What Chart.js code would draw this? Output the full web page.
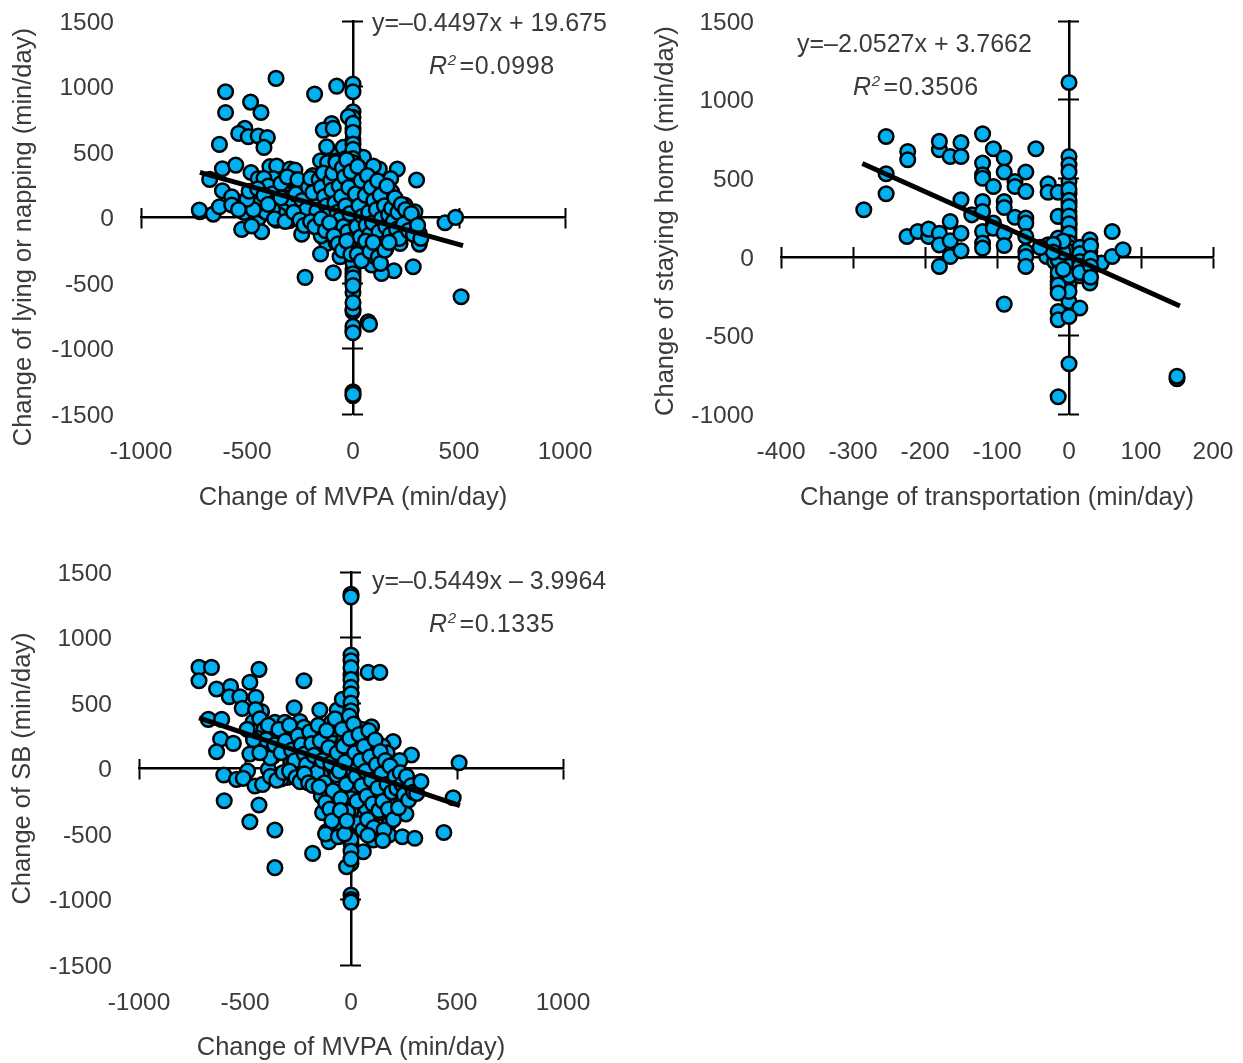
<!DOCTYPE html>
<html lang="en">
<head>
  <meta charset="UTF-8" />
  <title>Change of behaviours</title>
  <script src="https://cdn.jsdelivr.net/npm/chart.js"></script>
  <style>
    html, body {
      margin: 0;
      padding: 0;
      background: #fff;
      width: 1243px;
      height: 1063px;
      overflow: hidden;
      font-family: 'Liberation Sans', sans-serif;
      color: #3b3b3b;
    }
    canvas { position: absolute; }
    #chartA { left: 0; top: 0; }
    #chartB { left: 620px; top: 0; }
    #chartC { left: 0; top: 540px; }
    .note {
      position: absolute;
      font-size: 25px;
      line-height: 28px;
      white-space: nowrap;
    }
    .note sup { font-size: 15px; line-height: 0; font-style: italic; margin-right: 3px; }
    .note.r2 { letter-spacing: 0.6px; }
  </style>
</head>
<body>
  <canvas id="chartA" width="620" height="520"></canvas>
  <canvas id="chartB" width="623" height="520"></canvas>
  <canvas id="chartC" width="620" height="523"></canvas>

  <div class="note" style="left:372px;top:8px">y=–0.4497x + 19.675</div>
  <div class="note r2" style="left:429px;top:51px"><i>R</i><sup>2</sup>=0.0998</div>
  <div class="note" style="left:797px;top:29px">y=–2.0527x + 3.7662</div>
  <div class="note r2" style="left:853px;top:72px"><i>R</i><sup>2</sup>=0.3506</div>
  <div class="note" style="left:372px;top:566px">y=–0.5449x – 3.9964</div>
  <div class="note r2" style="left:429px;top:609px"><i>R</i><sup>2</sup>=0.1335</div>

  <script>
    const lyingX = [-363,-601,-181,-77,0,0,-483,-434,-601,0,0,-22,0,0,-101,-140,-93,-510,-539,-494,-447,-404,-420,-630,-124,-153,-616,-553,-481,-676,-616,-572,-447,-392,-360,-376,-297,-274,-242,-182,-289,-329,-69,-17,-46,3,49,-77,0,2,-58,-124,-90,-17,-46,124,96,209,178,300,104,127,49,182,178,190,72,45,151,222,258,292,245,434,484,-722,-725,-659,-630,-572,-514,-467,-447,-431,-525,-478,-360,-300,-274,-208,-242,-156,-124,-61,-6,0,104,135,222,313,313,190,284,193,135,88,104,-93,-61,-124,-153,-226,0,0,0,0,72,510,0,0,0,0,0,78,0,0,
      -500,-460,-430,-400,-350,-320,-260,-220,-200,-160,-140,-110,-90,-60,-40,-20,20,40,60,80,110,130,150,170,200,230,260,
      -410,-370,-330,-290,-250,-210,-170,-130,-100,-70,-30,10,30,55,85,115,140,165,195,225,
      -30,-10,15,35,65,95,120,155,-150,-110,-80,-45,-20,
      0,0,0,0,0,0,0,
      -280,-240,-190,-120,-80,-35,25,50,75,105,60,30,-15,-50,
      0,0,0,0,0,0,0,0,0,0,0,0,0,0,0,0,0,0,0,0,0,
      -420,-400,-380,-350,-340,-310,-300,-270,-260,-240,-220,-210,-200,-190,-170,-160,-150,-140,-135,-125,-115,-105,-100,-95,-85,-80,-75,-65,-60,-55,-50,-45,-40,-35,-30,-25,-20,-15,-10,-8,12,18,22,28,34,38,44,52,58,62,68,74,78,85,92,98,102,110,116,122,128,134,142,148,155,160,168,175,182,190,198,205,212,218,228,238,248,262,275,285,305,320,-330,-350,-380,-410,-440,-470,-500,-540,-490,-450,-420,-400,-370,-340,-320,-280,-250,-230,-200,-180,-150,-130,-110,-90,-70,-50,-30,-10,20,40,60,80,95,120,130,150,170];
    const lyingY = [1062,960,942,1003,1019,960,881,802,802,807,764,770,680,596,718,667,680,680,642,617,622,611,535,558,540,433,372,400,344,291,204,158,298,388,393,298,370,362,253,286,235,197,477,477,535,500,459,332,375,298,393,235,204,204,260,370,393,370,298,286,204,235,255,197,133,82,120,57,39,-20,31,44,95,-40,1,44,57,26,82,95,39,103,-7,-109,-91,-65,-20,-25,74,39,-127,-58,6,-40,-15,-122,-185,-172,-198,-203,-122,-122,-376,-407,-427,-363,-300,-422,-300,-198,-279,-457,-396,-490,-572,-720,-796,-605,-860,-830,-880,-1330,-1360,-815,-1350,-700,
      100,170,60,120,200,150,120,80,160,120,180,70,130,60,150,100,140,60,110,30,70,130,40,90,20,60,-30,
      40,10,50,-10,60,20,-20,40,-40,10,-70,-20,-100,-50,0,-90,-40,30,-60,-110,
      -160,-70,-130,-180,-100,-220,-150,-240,-140,-80,-190,-130,-250,
      -30,-160,-240,-320,-340,-180,-240,
      290,250,320,420,430,450,310,180,110,50,-60,-110,-250,-230,
      720,650,560,520,450,420,350,250,150,50,-50,-100,-180,-220,-260,-310,-350,-430,-460,-520,-650,
      300,240,180,130,260,310,90,180,290,130,60,230,300,190,50,290,230,340,160,90,20,280,210,340,110,420,40,240,-10,160,380,-70,310,90,440,-110,230,30,350,-170,180,-70,390,90,-150,280,10,-220,170,-60,320,40,-130,230,-40,130,-240,60,280,-110,170,-10,-200,90,-70,240,20,-130,70,-30,150,-90,40,-160,100,-50,60,-100,30,-130,-60,-160,50,20,60,40,110,60,140,60,200,220,170,100,-10,150,-30,40,-20,-60,-30,-70,-10,-100,-40,-140,-200,-250,-180,-280,-280,-330,-180,-260,-190,-300,-350,-250,-190];

    const transportX = [-285,-254,-254,-254,-224,-224,-225,-210,-195,-195,-180,-180,-180,-180,-165,-165,-165,-165,-180,-150,-150,-150,-150,-150,-135,-120,-120,-120,-120,-120,-120,-120,-120,-120,-105,-105,-105,-105,-90,-90,-90,-90,-90,-90,-90,-75,-75,-75,-60,-60,-60,-60,-60,-60,-60,-60,-46,-29,-29,-29,-31,-15,-15,-15,-15,-15,-15,-15,-15,-15,-15,-15,0,0,0,0,0,0,0,0,0,0,0,0,0,0,0,1,15,15,15,0,29,29,29,29,29,45,60,60,75,150,150,-15,0,0,0,15,15,-10,10,20,-20,-5,
      0,0,0,0,0,0,0,0,0,0,0,0,0,0,-15,-15,-15,-15,-15,15,15,15,15,15,30,30,30,30,-8,-8,-8,-22,-22,-40];
    const stayingY = [299,765,528,401,670,617,129,161,129,176,150,681,734,76,638,225,102,2,-61,727,638,363,150,38,267,782,596,522,500,352,288,161,87,55,687,447,214,182,628,539,352,314,150,72,-301,479,447,252,539,416,246,214,129,34,2,-61,687,464,411,76,2,411,257,119,66,2,-72,-125,-157,-205,-348,-400,638,585,479,401,340,288,235,204,172,119,2,-78,-178,-284,1109,-120,-78,2,-326,-380,108,34,-19,-93,-167,-40,2,161,45,-775,-760,-890,-680,60,-30,-120,20,-50,50,-100,-30,90,
      540,430,360,320,260,210,150,90,60,30,-30,-60,-120,-220,60,-20,-100,-180,-230,60,20,-30,-60,-100,70,-10,-60,-130,30,100,-80,80,30,60];

    const sbX = [-717,-658,-717,-434,-222,81,136,0,0,0,-477,-634,-568,-574,-524,-449,-513,-422,-461,-430,-673,-610,-615,-555,-634,-477,-488,-600,-540,-508,-453,-417,-598,-434,-477,-359,-359,-181,-268,-147,-65,-41,0,0,0,-92,-359,-312,-241,-222,81,97,199,285,510,482,438,-370,-238,-147,-312,-370,-284,-390,-301,-210,-118,-170,-120,-41,0,0,-20,-68,-178,105,120,196,136,149,227,317,259,136,179,199,120,179,242,301,58,0,0,0,-21,0,-115,-104,-60,-134,-79,-13,31,47,47,-13,-68,0,105,0,0,0,0,
      -300,-260,-200,-160,-100,-70,-30,20,50,80,150,170,230,260,
      -400,-340,-280,-230,-190,-130,-90,-50,15,40,70,100,130,160,210,
      -330,-270,-220,-170,-140,-95,-45,-25,25,60,90,125,165,205,250,
      -140,-100,-40,10,35,75,110,150,-20,0,20,70,140,
      0,0,0,0,0,0,0,0,0,0,0,0,0,0,0,0,0,0,0,
      -450,-430,-410,-390,-440,-420,-400,-380,-360,-340,-330,-310,-290,-280,-265,-250,-235,-220,-210,-195,-185,-175,-160,-155,-145,-135,-125,-115,-105,-95,-85,-75,-65,-55,-48,-42,-35,-28,-22,-16,-8,-6,12,18,24,28,32,38,44,50,56,62,68,74,78,84,90,96,102,108,114,120,126,132,138,144,150,156,162,170,176,184,192,200,208,216,224,232,240,250,262,272,285,295,310,330,-380,-350,-320,-290,-260,-240,-220,-200,-180,-150,-120,-100,-90,-120,-60,-30,-50,-20,80,150,-460,-490,-430];
    const sbY = [772,772,670,757,670,734,734,866,823,714,658,607,625,548,548,543,459,434,357,306,375,375,225,192,128,111,-19,-50,-83,-75,-134,-121,-246,-279,-406,-470,-757,-648,464,447,447,528,574,452,383,352,352,352,358,314,268,319,205,103,44,-223,-488,235,235,268,290,90,44,-6,-68,-68,-121,149,116,65,116,212,270,217,65,90,14,22,-57,-195,-233,-113,-347,-337,-424,-291,-500,-508,-521,-533,-635,-482,-571,-724,-750,-966,-482,-559,-424,-337,-266,-266,-195,-309,-381,-151,-50,-60,-546,1330,1310,-1000,-1020,
      180,260,200,130,240,300,180,260,300,200,170,120,60,-60,
      150,120,110,70,100,90,40,-10,30,-30,-20,-60,-100,-70,-50,
      -80,40,10,-30,-50,30,-20,50,-100,-40,-80,-120,-160,-150,-110,
      -210,-260,-180,-130,-240,-200,-250,-150,-360,-420,-330,-300,-260,
      770,680,620,570,500,440,330,250,160,60,0,-100,-170,-230,-320,-400,-540,-630,-690,
      450,380,300,330,230,160,220,80,180,300,120,210,330,140,60,250,180,110,30,280,190,100,-30,330,210,60,-110,290,160,40,-170,380,120,-20,-230,300,170,50,-120,-330,400,230,340,120,-60,-250,-420,260,60,-130,-470,170,-20,-210,-390,290,90,-90,-270,-450,220,30,-150,-320,130,-40,-250,-470,60,-120,-310,20,-180,-390,-60,-150,-300,-30,-120,-200,-60,-240,-130,-180,-190,-100,-60,-90,-30,-20,-70,-100,-40,-110,-130,-140,-260,-310,-400,-500,-520,-500,-320,-400,-510,-550,220,300,120];

    const mvpaLimits = [-1000, 1000];
    const transportLimits = [-400, 200];
    const lyingLimits = [-1500, 1500];
    const stayingLimits = [-1000, 1500];
    const sbLimits = [-1500, 1500];

    const lyingTrendX = [-722, 519];
    const lyingTrendY = [345, -214];
    const stayingTrendX = [-287, 154];
    const stayingTrendY = [593, -313];
    const sbTrendX = [-717, 514];
    const sbTrendY = [387, -284];

    const family = "'Liberation Sans', sans-serif";
    const tickFont = { family, size: 24.5 };
    const titleFont = { family, size: 25.5 };
    const textColor = '#3b3b3b';

    function pairs(xs, ys) {
      if (xs.length !== ys.length) throw new Error('length mismatch ' + xs.length + ' ' + ys.length);
      return xs.map((x, i) => ({ x, y: ys[i] }));
    }

    // extra scale that only draws an axis line through zero, with ticks to one side
    function crossAxis(axis, lim, step, tick, border) {
      return {
        type: 'linear',
        axis,
        min: lim[0],
        max: lim[1],
        position: axis === 'x' ? { y: 0 } : { x: 0 },
        ticks: { display: false, stepSize: step, autoSkip: false },
        grid: { drawOnChartArea: false, drawTicks: true, tickLength: tick, tickWidth: 2, tickColor: '#000' },
        border: { display: border, color: '#000', width: 2.5 }
      };
    }

    // tick gap is made with a see-through tick mark: ticks.padding would widen the layout padding
    function labelGrid(len) {
      return { drawOnChartArea: false, drawTicks: true, tickLength: len, tickColor: 'rgba(0,0,0,0)' };
    }

    function panel(id, o) {
      new Chart(document.getElementById(id), {
        type: 'scatter',
        data: {
          datasets: [
            {
              type: 'line',
              data: pairs(o.trendX, o.trendY),
              borderColor: '#000',
              borderWidth: 5,
              pointRadius: 0,
              order: 0
            },
            {
              data: pairs(o.xs, o.ys),
              backgroundColor: '#00B0F0',
              borderColor: '#000',
              borderWidth: 2.5,
              pointRadius: 7.3,
              order: 1
            }
          ]
        },
        options: {
          responsive: false,
          animation: false,
          layout: { padding: { top: o.top, right: o.right, left: 0, bottom: 0 } },
          plugins: { legend: { display: false }, tooltip: { enabled: false } },
          scales: {
            x: {
              type: 'linear',
              position: 'bottom',
              min: o.xLim[0],
              max: o.xLim[1],
              grid: labelGrid(24),
              border: { display: false },
              ticks: { stepSize: o.xStep, autoSkip: false, maxRotation: 0, color: textColor, font: tickFont, padding: 0, callback: v => v },
              title: { display: true, text: o.xTitle, color: textColor, font: titleFont, padding: { top: 0, bottom: o.xTitlePad } },
              afterFit: s => { s.height = o.bottomH; }
            },
            y: {
              type: 'linear',
              position: 'left',
              min: o.yLim[0],
              max: o.yLim[1],
              grid: labelGrid(27),
              border: { display: false },
              // empty first line with a short line height nudges the label 2px down onto its tick
              ticks: { stepSize: 500, autoSkip: false, color: textColor, font: { family, size: 24.5, lineHeight: '4px' }, padding: 0, callback: v => ['', String(v)] },
              title: { display: true, text: o.yTitle, align: o.yAlign, color: textColor, font: titleFont, padding: { top: o.yTitlePad, bottom: 0 } },
              afterFit: s => { s.width = o.leftW; }
            },
            x0: crossAxis('x', o.xLim, o.xStep, 10, true),
            x1: crossAxis('x', o.xLim, o.xStep, -10, false),
            y0: crossAxis('y', o.yLim, 500, 10, true),
            y1: crossAxis('y', o.yLim, 500, -10, false)
          }
        }
      });
    }

    panel('chartA', {
      xs: lyingX, ys: lyingY, trendX: lyingTrendX, trendY: lyingTrendY,
      xLim: mvpaLimits, yLim: lyingLimits, xStep: 500,
      xTitle: 'Change of MVPA (min/day)', yTitle: 'Change of lying or napping (min/day) ', yAlign: 'end',
      leftW: 141, bottomH: 106, top: 21, right: 55, xTitlePad: 7, yTitlePad: 9
    });
    panel('chartB', {
      xs: transportX, ys: stayingY, trendX: stayingTrendX, trendY: stayingTrendY,
      xLim: transportLimits, yLim: stayingLimits, xStep: 100,
      xTitle: 'Change of transportation (min/day)', yTitle: 'Change of staying home (min/day) ', yAlign: 'center',
      leftW: 161, bottomH: 106, top: 21, right: 30, xTitlePad: 7, yTitlePad: 31
    });
    panel('chartC', {
      xs: sbX, ys: sbY, trendX: sbTrendX, trendY: sbTrendY,
      xLim: mvpaLimits, yLim: sbLimits, xStep: 500,
      xTitle: 'Change of MVPA (min/day)', yTitle: 'Change of SB (min/day)', yAlign: 'center',
      leftW: 139, bottomH: 98, top: 32, right: 57, xTitlePad: 0, yTitlePad: 8
    });
  </script>
</body>
</html>
